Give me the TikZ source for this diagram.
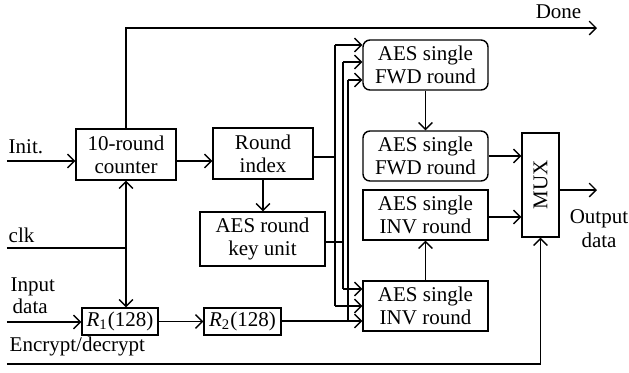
\documentclass[tikz,border=0pt]{standalone}
\usepackage{fontspec}
\setmainfont{Liberation Serif}
\usetikzlibrary{arrows.meta}
\begin{document}
\begin{tikzpicture}[x=0.5pt,y=-0.5pt,
  line width=0.7pt,
  >={Straight Barb[length=3.4pt,width=6.8pt]},
  every node/.style={font=\fontsize{10.5}{11.5}\selectfont, inner sep=0pt},
  blk/.style={draw, align=center},
  rblk/.style={blk, rounded corners=3.5pt},
  aes/.style={minimum width=62.5pt, minimum height=25pt},
  lbl/.style={anchor=base west}]
\useasboundingbox (0,0) rectangle (629,372);

% blocks
\node[blk, minimum width=50pt, minimum height=25.5pt] (cnt) at (126,154.5) {10-round\\counter};
\node[blk, minimum width=50pt, minimum height=25.5pt] (idx) at (263,153.5) {Round\\index};
\node[blk, minimum width=62.5pt, minimum height=27pt] (key) at (262.5,239) {AES round\\key unit};
\node[blk, minimum width=38pt, minimum height=13.5pt] (r1) at (120,321.5) {\textit{R}\textsubscript{1}(128)};
\node[blk, minimum width=38.5pt, minimum height=13.5pt] (r2) at (242.5,321.5) {\textit{R}\textsubscript{2}(128)};
\node[rblk, aes] (f1) at (425.5,65) {AES single\\FWD round};
\node[rblk, aes] (f2) at (425.5,156) {AES single\\FWD round};
\node[blk, aes] (i1) at (425.5,215) {AES single\\INV round};
\node[blk, aes] (i2) at (425.5,306) {AES single\\INV round};
\node[blk, minimum width=18.5pt, minimum height=52pt] (mux) at (540.5,185) {\rotatebox{90}{MUX}};

% labels
\node[lbl] (tinit) at (8,153) {Init.};
\node[lbl] (tclk) at (8,242) {clk};
\node[lbl] (tin1) at (10,291) {Input};
\node[lbl] (tin2) at (12,313) {data};
\node[lbl] (tenc) at (9,351) {Encrypt/decrypt};
\node[anchor=base east] (tdone) at (582,18) {Done};
\node[anchor=base] (tout1) at (599,223) {Output};
\node[anchor=base] (tout2) at (599,247) {data};

% coordinates
\coordinate (iin) at (7,161);
\coordinate (c1) at (176,161);
\coordinate (done) at (597,28);
\coordinate (clk) at (7,248);
\coordinate (din) at (7,322);
\coordinate (enc) at (7,364);
\coordinate (out) at (597,190);
\coordinate (b1) at (335,157);
\coordinate (b1t) at (335,45);
\coordinate (b1b) at (335,306);
\coordinate (b2) at (343,242);
\coordinate (b2t) at (343,62);
\coordinate (b2b) at (343,289);
\coordinate (b3) at (348,321);
\coordinate (b3t) at (348,80);

% connectors
\draw[->] (iin) -- (iin -| cnt.west);
\draw[->] (c1) -- (c1 -| idx.west);
\draw[->] (cnt.north) |- (done);
\coordinate (cj) at (cnt.south |- clk);
\draw (clk) -- (cj);
\draw[->] (cj) -- (cnt.south);
\draw[->] (cj) -- (cj |- r1.north);
\draw[->] (din) -- (din -| r1.west);
\draw[->] (r1) -- (r2);
\draw[->] (enc) -| (mux.south);
\draw[->] (idx.south) -- (idx.south |- key.north);

\draw (idx.east |- b1) -- (b1);
\draw[->] (b1t) -- (b1t -| f1.west);
\draw (b1t) -- (b1b);
\draw[->] (b1b) -- (b1b -| i2.west);

\draw (key.east |- b2) -- (b2);
\draw[->] (b2t) -- (b2t -| f1.west);
\draw (b2t) -- (b2b);
\draw[->] (b2b) -- (b2b -| i2.west);

\draw[->] (r2.east |- b3) -- (b3 -| i2.west);
\draw (b3) -- (b3t);
\draw[->] (b3t) -- (b3t -| f1.west);

\draw[->] (f1) -- (f2);
\draw[->] (i2) -- (i1);
\draw[->] (f2.east) -- (f2.east -| mux.west);
\coordinate (m2) at (488,217);
\draw[->] (m2) -- (m2 -| mux.west);
\draw[->] (mux.east |- out) -- (out);
\end{tikzpicture}
\end{document}
